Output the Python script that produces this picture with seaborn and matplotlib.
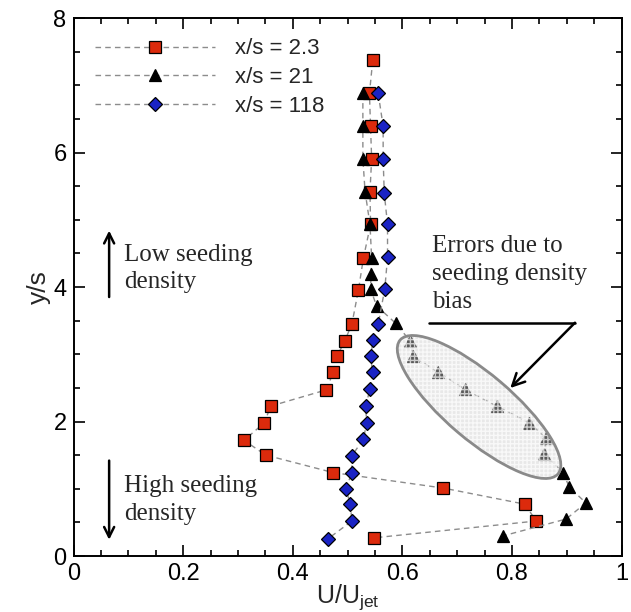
import numpy as np
import pandas as pd
import matplotlib
matplotlib.use("Agg")
import matplotlib.pyplot as plt
import seaborn as sns
from matplotlib.patches import Ellipse
from matplotlib.transforms import ScaledTranslation
from matplotlib.ticker import MultipleLocator

# ---------------- data ----------------
red_U = [0.546, 0.540, 0.542, 0.544, 0.541, 0.542, 0.529, 0.520, 0.508, 0.495, 0.481,
         0.474, 0.461, 0.360, 0.348, 0.311, 0.351, 0.474, 0.675, 0.824, 0.844, 0.548]
red_Y = [7.37, 6.88, 6.39, 5.91, 5.42, 4.93, 4.43, 3.96, 3.45, 3.20, 2.97,
         2.73, 2.47, 2.23, 1.98, 1.72, 1.50, 1.24, 1.01, 0.77, 0.52, 0.27]

blk_U = [0.528, 0.528, 0.528, 0.532, 0.541, 0.544, 0.543, 0.542, 0.553, 0.588, 0.614, 0.620,
         0.666, 0.714, 0.772, 0.832, 0.862, 0.859, 0.893, 0.905, 0.935, 0.899, 0.784]
blk_Y = [6.88, 6.39, 5.91, 5.42, 4.93, 4.43, 4.19, 3.97, 3.72, 3.46, 3.20, 2.97,
         2.73, 2.48, 2.23, 1.98, 1.75, 1.52, 1.24, 1.02, 0.79, 0.55, 0.30]

blu_U = [0.556, 0.565, 0.565, 0.567, 0.573, 0.573, 0.568, 0.556, 0.547, 0.542, 0.546,
         0.541, 0.533, 0.535, 0.529, 0.508, 0.508, 0.497, 0.505, 0.508, 0.465]
blu_Y = [6.88, 6.39, 5.91, 5.40, 4.93, 4.44, 3.97, 3.45, 3.21, 2.97, 2.73,
         2.48, 2.23, 1.98, 1.74, 1.49, 1.24, 1.00, 0.77, 0.52, 0.26]

series_labels = ["x/s = 2.3", "x/s = 21", "x/s = 118"]
x_ticks = [0, 0.2, 0.4, 0.6, 0.8, 1]
x_tick_labels = ["0", "0.2", "0.4", "0.6", "0.8", "1"]
y_ticks = [0, 2, 4, 6, 8]

# ---------------- style ----------------
sns.set_style("ticks")
plt.rcParams["font.family"] = ["Liberation Sans", "DejaVu Sans"]
plt.rcParams["mathtext.fontset"] = "custom"
plt.rcParams["mathtext.rm"] = "Liberation Sans"
plt.rcParams["mathtext.it"] = "Liberation Sans"

fig = plt.figure(figsize=(6.31, 6.12), dpi=100)
ax = fig.add_axes([0.1165, 0.0915, 0.8685, 0.879])

line_kw = dict(color="#8c8c8c", linestyle=(0, (4, 3)), linewidth=1.0,
               markeredgecolor="black", markeredgewidth=0.9, sort=False, estimator=None)

sns.lineplot(x=red_U, y=red_Y, ax=ax, marker="s", markersize=8.5,
             markerfacecolor="#dc2a0c", label=series_labels[0], zorder=3, **line_kw)
sns.lineplot(x=blk_U, y=blk_Y, ax=ax, marker="^", markersize=8.5,
             markerfacecolor="black", label=series_labels[1], zorder=4, **line_kw)
sns.lineplot(x=blu_U, y=blu_Y, ax=ax, marker="D", markersize=7.5,
             markerfacecolor="#1a23c4", label=series_labels[2], zorder=5, **line_kw)

# shaded ellipse marking the biased region (annotation)
ell_center = (0.740, 2.216)
tr = fig.dpi_scale_trans + ScaledTranslation(ell_center[0], ell_center[1], ax.transData)
ax.add_patch(Ellipse((0, 0), 2.07, 0.66, angle=-40.3, transform=tr,
                     facecolor=(0.80, 0.80, 0.80, 0.45), edgecolor="none", zorder=6))
ax.add_patch(Ellipse((0, 0), 2.07, 0.66, angle=-40.3, transform=tr,
                     facecolor="none", edgecolor="white", linewidth=0, hatch="++++",
                     alpha=0.7, zorder=6.5))
ax.add_patch(Ellipse((0, 0), 2.07, 0.66, angle=-40.3, transform=tr,
                     facecolor="none", edgecolor="#8a8a8a", linewidth=2.0, zorder=7))

# ---------------- axes ----------------
ax.set_xlim(0, 1)
ax.set_ylim(0, 8)
ax.set_xticks(x_ticks)
ax.set_xticklabels(x_tick_labels)
ax.set_yticks(y_ticks)
ax.xaxis.set_minor_locator(MultipleLocator(0.05))
ax.yaxis.set_minor_locator(MultipleLocator(0.5))
ax.tick_params(which="both", direction="in", top=True, right=True, width=1.2,
               labelsize=17, colors="black")
ax.tick_params(which="major", length=8, pad=5)
ax.tick_params(which="minor", length=4)
for s in ax.spines.values():
    s.set_linewidth(1.4)
    s.set_color("black")
    s.set_visible(True)

ax.set_xlabel("U/U$_{\\mathrm{jet}}$", fontsize=18, labelpad=-2)
ax.set_ylabel("y/s", fontsize=19, labelpad=2)

leg = ax.legend(loc="upper left", bbox_to_anchor=(0.039, 0.962), frameon=False,
                fontsize=16, handlelength=5.4, handletextpad=0.9, labelspacing=0.35,
                borderpad=0, borderaxespad=0, numpoints=1)

# ---------------- annotations ----------------
serif = ["Liberation Serif", "DejaVu Serif"]
tfs = 18
ax.text(0.092, 4.39, "Low seeding", family=serif, fontsize=tfs)
ax.text(0.092, 3.99, "density", family=serif, fontsize=tfs)
ax.text(0.092, 0.95, "High seeding", family=serif, fontsize=tfs)
ax.text(0.092, 0.535, "density", family=serif, fontsize=tfs)
ax.annotate("", xy=(0.065, 4.88), xytext=(0.065, 3.81),
            arrowprops=dict(arrowstyle="->", lw=1.8, color="black", mutation_scale=18))
ax.annotate("", xy=(0.065, 0.20), xytext=(0.065, 1.46),
            arrowprops=dict(arrowstyle="->", lw=1.8, color="black", mutation_scale=18))

ax.text(0.654, 4.52, "Errors due to", family=serif, fontsize=tfs)
ax.text(0.654, 4.10, "seeding density", family=serif, fontsize=tfs)
ax.text(0.654, 3.69, "bias", family=serif, fontsize=tfs)
ax.plot([0.649, 0.915], [3.469, 3.469], color="black", lw=1.8, zorder=8)
ax.annotate("", xy=(0.797, 2.498), xytext=(0.915, 3.469),
            arrowprops=dict(arrowstyle="->", lw=1.8, color="black", mutation_scale=22,
                            shrinkA=0, shrinkB=0), zorder=8)

fig.savefig("out.png", dpi=100)
